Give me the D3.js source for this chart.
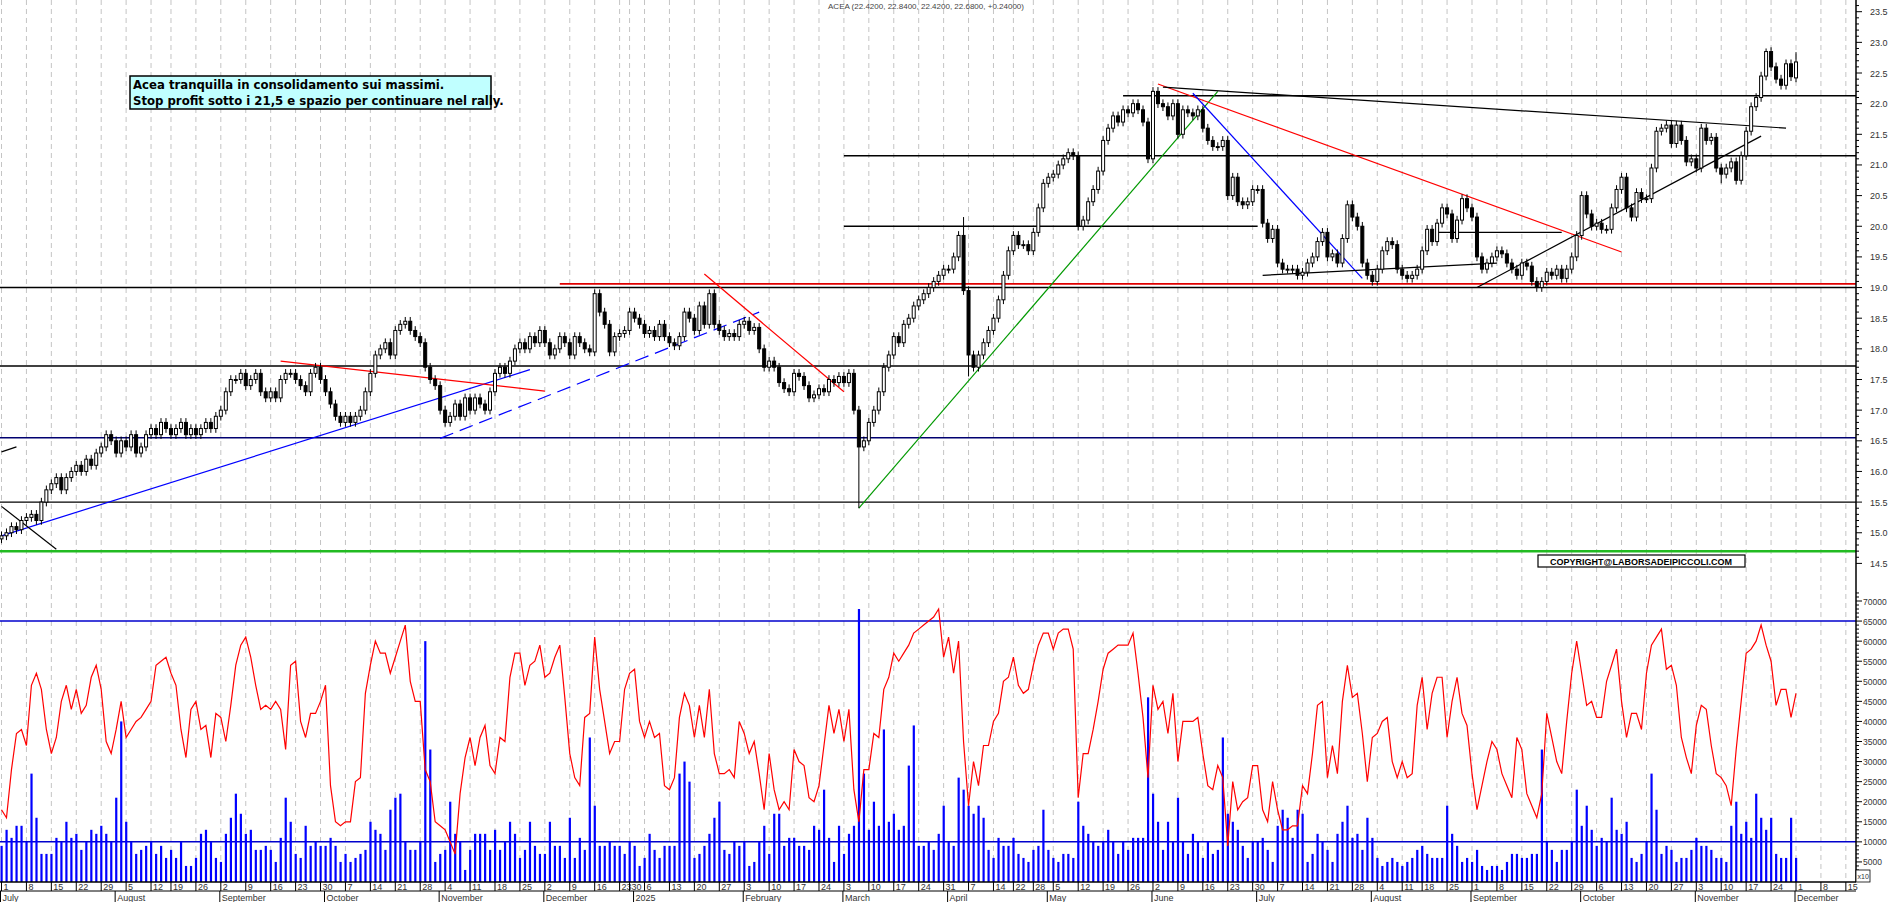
<!DOCTYPE html>
<html><head><meta charset="utf-8">
<script src="https://cdn.jsdelivr.net/npm/d3@7"></script>
<style>body{margin:0;background:#fff}svg{display:block}</style>
</head><body><svg id="c" width="1890" height="902"></svg>
<script>
// ---- DATA ----
const title = "ACEA (22.4200, 22.8400, 22.4200, 22.6800, +0.24000)";
const noteLines = ["Acea tranquilla in consolidamento sui massimi.", "Stop profit sotto i 21,5 e spazio per continuare nel rally."];
const copyright = "COPYRIGHT@LABORSADEIPICCOLI.COM";
const holidays = ["2024-08-15","2024-12-24","2024-12-25","2024-12-26","2024-12-31","2025-01-01","2025-04-18","2025-04-21","2025-05-01","2025-08-15"];
const monthNames = ["2025","February","March","April","May","June","July","August","September","October","November","December"];
const monthNames24 = ["","","","","","","July","August","September","October","November","December"];

const closes = [
// Jul 2024
14.95,15.0,15.1,15.05,15.2, 15.25,15.3,15.2,15.5,15.7, 15.8,15.9,15.7,15.9,16.0, 16.1,16.0,16.2,16.1,16.3, 16.4,16.6,16.5,
// Aug
16.3,16.5,16.4,16.6,16.3, 16.4,16.6,16.7,16.6,16.8, 16.7,16.6,16.7,16.8,16.6, 16.7,16.6,16.7,16.8,16.7, 16.9,
// Sep
17.0,17.3,17.5,17.5,17.6, 17.4,17.5,17.6,17.3,17.2, 17.3,17.2,17.5,17.6,17.6, 17.5,17.4,17.3,17.6,17.7, 17.5,
// Oct
17.3,17.1,16.9,16.8,16.9, 16.8,16.9,17.0,17.3,17.6, 17.9,18.0,18.1,17.9,18.3, 18.4,18.45,18.3,18.2,18.1, 17.7,17.5,17.4,
// Nov
17.0,16.8,16.9,17.1,16.9, 17.2,17.0,17.2,17.1,17.0, 17.3,17.6,17.7,17.6,17.8, 18.0,18.1,18.0,18.2,18.1, 18.3,
// Dec
18.1,17.9,18.0,18.2,18.1, 17.9,18.2,18.1,18.0,17.95, 18.9,18.6,18.4,17.95,18.2, 18.25,18.3,18.6,
// Jan 2025
18.5,18.4,18.25,18.3,18.2, 18.4,18.2,18.1,18.05,18.2, 18.6,18.5,18.3,18.7,18.4, 18.9,18.4,18.3,18.2,18.25, 18.2,18.4,
// Feb
18.45,18.3,18.35,18.0,17.7, 17.8,17.7,17.45,17.35,17.3, 17.6,17.55,17.4,17.2,17.25, 17.35,17.3,17.5,17.45,17.55,
// Mar
17.45,17.6,17.0,16.4,16.5, 16.8,17.0,17.3,17.7,17.9, 18.2,18.1,18.4,18.5,18.7, 18.8,18.9,19.0,19.1,19.2, 19.3,
// Apr
19.3,19.5,19.85,18.95,17.9, 17.7,17.9,18.1,18.3,18.5, 18.8,19.2,19.6,19.85,19.7, 19.7,19.6,19.9,20.3,20.7,
// May
20.8,20.85,21.0,21.1,21.2, 21.15,20.0,20.1,20.4,20.6, 20.9,21.4,21.6,21.8,21.7, 21.9,21.85,22.0,21.9,21.7, 21.1,
// Jun
22.2,22.0,21.95,21.8,22.0, 21.5,21.9,21.85,21.8,21.9, 21.6,21.4,21.3,21.3,21.4, 20.5,20.8,20.4,20.35,20.4, 20.6,
// Jul
20.6,20.05,19.8,19.95,19.4, 19.3,19.3,19.3,19.2,19.25, 19.4,19.5,19.75,19.9,19.5, 19.55,19.4,19.8,20.35,20.15, 20.0,19.4,19.2,
// Aug
19.1,19.3,19.6,19.75,19.7, 19.3,19.2,19.15,19.2,19.3, 19.6,19.95,19.75,20.05,20.3, 20.2,19.8,20.1,20.45,20.3,
// Sep
20.15,19.5,19.3,19.4,19.5, 19.6,19.55,19.4,19.3,19.2, 19.4,19.35,19.1,19.0,19.1, 19.25,19.2,19.3,19.15,19.3, 19.5,19.85,
// Oct
20.5,20.2,20.0,20.05,19.95, 19.95,20.3,20.6,20.8,20.3, 20.15,20.55,20.45,20.45,20.95, 21.55,21.6,21.65,21.35,21.65, 21.4,21.05,21.1,
// Nov
20.95,21.6,21.4,21.45,20.95, 20.85,20.95,21.05,20.75,21.15, 21.55,21.95,22.1,22.45,22.85, 22.6,22.4,22.3,22.65,22.44,
// Dec
22.68];
const firstOpen = 14.9;
const lastOpen = 22.42;
const wickExtremes = [[172,15.4,"low"],[194,17.55,"low"],[193,20.15,"high"],[360,22.84,"high"],[354,22.9,"high"],[345,20.7,"low"]];

// volume (thousands, axis units)
const volume = [
9,13,11,14,14,10,27,16,7,7,7,11,10,15,11,12,8,10,13,12,14,12,10,21,40,15,10,7,8,9,10,7,9,6,8,6,10,4,4,6,12,13,10,6,5,12,16,22,17,12,13,8,8,9,8,5,11,21,15,7,6,14,9,10,9,9,11,9,5,7,5,6,7,8,15,13,12,8,18,21,22,10,8,8,10,60,33,5,7,8,20,12,10,3,8,12,12,12,8,13,8,10,15,12,6,8,15,9,7,7,15,9,9,6,16,6,11,8,36,19,9,9,10,9,9,
7,10,9,4,6,12,8,6,9,9,9,27,30,25,6,7,9,12,16,20,8,7,10,9,10,4,5,10,14,7,17,17,9,11,11,9,9,8,14,13,23,11,5,14,7,12,14,68,27,13,20,14,38,15,17,13,14,29,39,9,9,10,8,12,19,10,9,26,23,19,17,19,16,8,6,11,9,9,11,7,6,5,8,9,18,8,6,5,7,7,6,20,14,12,10,9,10,13,10,7,10,8,11,11,11,46,22,15,8,15,10,21,10,7,12,10,6,10,7,8,
36,17,15,13,9,6,10,10,11,8,5,14,18,16,11,18,17,5,7,12,10,8,5,12,15,19,11,12,8,16,11,6,4,5,6,5,4,5,6,8,9,7,6,6,6,19,12,9,5,6,5,8,4,3,4,4,3,5,7,7,6,6,7,7,33,10,8,5,8,8,10,23,14,19,13,9,11,10,21,13,12,15,6,5,7,10,27,18,7,9,8,5,6,6,8,11,9,9,8,6,6,5,14,20,12,15,11,22,16,13,16,7,6,6,16,6];

// oscillator (thousands, axis units)
const osc = [
18,16,28,37,38,34,49,52,48,38,32,36,45,49,43,48,42,44,51,54,48,35,32,38,45,36,38,40,41,43,45,54,55,56,52,49,38,31,43,45,38,39,31,42,41,35,44,54,59,61,56,49,43,44,43,45,43,33,54,55,40,36,42,42,45,49,24,15,14,15,15,25,26,47,54,60,57,57,52,56,60,64,50,45,45,28,25,15,14,13,10,7,22,31,36,29,36,39,29,27,36,35,51,57,57,49,54,55,59,51,52,56,59,46,32,26,24,41,42,61,48,40,32,35,35,
48,52,53,40,36,40,36,37,24,23,26,41,47,44,36,44,36,48,32,27,27,28,26,40,37,32,35,27,18,32,23,18,20,18,33,30,29,21,20,24,34,44,37,43,35,43,23,15,28,28,37,36,48,51,57,55,57,59,62,63,64,65,66,68,56,61,52,60,35,19,30,24,34,34,40,42,50,51,56,49,47,48,54,59,62,62,58,62,63,63,58,21,32,32,38,45,53,57,58,59,59,59,62,52,41,26,49,43,45,37,47,30,40,40,40,41,32,24,23,29,
26,9,25,18,20,21,29,29,18,15,25,18,13,13,14,14,24,22,32,44,45,26,34,27,45,54,46,47,37,25,36,37,40,41,30,26,30,26,27,44,51,38,47,51,51,36,45,51,42,39,27,18,24,30,35,33,27,24,21,36,33,22,19,16,22,42,36,30,27,40,52,60,52,44,45,41,41,50,54,58,45,36,42,42,38,52,59,61,63,53,54,49,36,31,27,39,44,43,34,27,26,24,19,33,45,57,58,60,64,59,55,44,48,48,41,47];

// horizontal levels [price, fromIndex, toIndex(null=edge), colour, width]
const hLevels = [[22.13,225,null,"#000",1.5],[21.15,169,null,"#000",1.5],[20.0,169,252,"#000",1.5],[19.06,112,null,"#e00000",1.8],[19.0,0,null,"#000",1.5],[17.72,0,null,"#000",1.5],[16.55,0,null,"#000070",1.5],[15.5,0,null,"#000",1.2],[14.7,0,null,"#22bb22",2.5]];
const volLevels = [65, 10];
// trendlines [[i1,p1],[i2,p2],colour,dash]
const trends = [
 [[0,14.95],[106,17.66],"#0000ff",null],
 [[88,16.54],[152,18.6],"#0000ff","14,7"],
 [[56,17.8],[109,17.31],"#ff0000",null],
 [[141,19.22],[169,17.3],"#ff0000",null],
 [[172,15.4],[244,22.2],"#009900",null],
 [[232,22.32],[325,19.58],"#ff0000",null],
 [[239,22.17],[273,19.15],"#0000ff",null],
 [[233,22.27],[358,21.6],"#000",null],
 [[296,19.0],[353,21.47],"#000",null],
 [[253,19.2],[300,19.4],"#000",null],
 [[288,19.9],[313,19.9],"#000",null],
 [[0,16.32],[3,16.4],"#000",null],
 [[0,15.43],[11,14.73],"#000",null]];

// ---- DATES ----
const hol = new Set(holidays);
const dates = [];
for (let d = new Date(Date.UTC(2024,6,1)); d <= new Date(Date.UTC(2025,11,19)); d = new Date(d.getTime()+864e5)) {
  const wd = d.getUTCDay(); const s = d.toISOString().slice(0,10);
  if (wd>0 && wd<6 && !hol.has(s)) dates.push(d);
}
const nData = closes.length;

// ---- SCALES ----
const W = 1856;
const x = d3.scaleLinear().domain([0, 360]).range([1.5, 1796]);
const y = d3.scaleLinear().domain([23.5, 14.5]).range([11.7, 563.4]);
const yv = d3.scaleLinear().domain([0, 70]).range([882, 601]);
const svg = d3.select("#c");
const font = "'Liberation Sans', Arial, sans-serif";

// weekly starts (Monday-based weeks)
const mon0 = Date.UTC(2024,6,1);
const wk = d => Math.floor((d.getTime()-mon0)/(7*864e5));
const weekStarts = [];
dates.forEach((d,i)=>{ if(i===0 || wk(d)!==wk(dates[i-1])) weekStarts.push(i); });
const monthStarts = [];
dates.forEach((d,i)=>{ if(i===0 || d.getUTCMonth()!==dates[i-1].getUTCMonth()) monthStarts.push(i); });

// grid
svg.append("g").selectAll("line").data(weekStarts).join("line")
  .attr("x1",i=>x(i)).attr("x2",i=>x(i)).attr("y1",0).attr("y2",882)
  .attr("stroke","#c4c4c4").attr("stroke-dasharray","5,4").attr("stroke-width",1);

const plot = svg.append("g");
plot.append("clipPath").attr("id","cp").append("rect").attr("x",0).attr("y",0).attr("width",W).attr("height",882);
const pg = plot.append("g").attr("clip-path","url(#cp)");

// levels
hLevels.forEach(([p,a,b,c,w])=>{
  pg.append("line").attr("x1",a===0?0:x(a)).attr("x2",b===null?W:x(b)).attr("y1",y(p)).attr("y2",y(p)).attr("stroke",c).attr("stroke-width",w);
});
trends.forEach(([a,b,c,dash])=>{
  pg.append("line").attr("x1",x(a[0])).attr("y1",y(a[1])).attr("x2",x(b[0])).attr("y2",y(b[1]))
   .attr("stroke",c).attr("stroke-width",1.2).attr("stroke-dasharray",dash);
});

// candles
const ohlc = closes.map((c,i)=>{
  const o = i===0?firstOpen:(i===nData-1?lastOpen:closes[i-1]);
  let h = Math.max(o,c)+0.07, l = Math.min(o,c)-0.07;
  wickExtremes.forEach(([k,v,t])=>{ if(k===i){ if(t==="low") l=v; else h=v; }});
  return {i,o,c,h,l};
});
const cg = pg.append("g");
cg.selectAll("line").data(ohlc).join("line")
  .attr("x1",d=>x(d.i)).attr("x2",d=>x(d.i)).attr("y1",d=>y(d.h)).attr("y2",d=>y(d.l)).attr("stroke","#000").attr("stroke-width",1);
cg.selectAll("rect").data(ohlc).join("rect")
  .attr("x",d=>x(d.i)-1.5).attr("width",3)
  .attr("y",d=>y(Math.max(d.o,d.c))).attr("height",d=>Math.max(1,Math.abs(y(d.o)-y(d.c))))
  .attr("fill",d=>d.c>=d.o?"#fff":"#000").attr("stroke","#000").attr("stroke-width",1);

// volume panel
volLevels.forEach(v=>pg.append("line").attr("x1",0).attr("x2",W).attr("y1",yv(v)).attr("y2",yv(v)).attr("stroke","#0000cc").attr("stroke-width",1.5));
pg.append("g").selectAll("rect").data(volume).join("rect")
  .attr("x",(v,i)=>x(i)-1).attr("width",2.2).attr("y",v=>yv(v)).attr("height",v=>882-yv(v)).attr("fill","#0000ff");
pg.append("path").datum(osc).attr("fill","none").attr("stroke","#ff0000").attr("stroke-width",1.2)
  .attr("d",d3.line().x((v,i)=>x(i)).y(v=>yv(v)));

// right axes
const ax = svg.append("g").attr("font-family",font).attr("font-size",10).attr("fill","#333");
ax.append("line").attr("x1",W).attr("x2",W).attr("y1",0).attr("y2",882).attr("stroke","#000").attr("stroke-width",1.5);
for(let k=145;k<=236;k++){ const p=k/10; const maj = k%5===0;
  ax.append("line").attr("x1",W).attr("x2",W+(maj?6:3)).attr("y1",y(p)).attr("y2",y(p)).attr("stroke","#000");
  if(maj) ax.append("text").attr("x",W+14).attr("y",y(p)+3.5).attr("font-size",9).text(p.toFixed(1));
}
for(let k=2;k<=72;k++){ const maj=k%5===0;
  ax.append("line").attr("x1",W).attr("x2",W+(maj?6:3)).attr("y1",yv(k)).attr("y2",yv(k)).attr("stroke","#000");
  if(maj && k>=5 && k<=70) ax.append("text").attr("x",W+7).attr("y",yv(k)+3.5).attr("font-size",8.5).text(k*1000);
}
ax.append("rect").attr("x",W).attr("y",870).attr("width",14).attr("height",12).attr("fill","#fff").attr("stroke","#000").attr("stroke-width",0.8);
ax.append("text").attr("x",W+1.5).attr("y",879).attr("font-size",7).text("x10");

// bottom axis
const bx = svg.append("g").attr("font-family",font).attr("font-size",10).attr("fill","#333");
bx.append("line").attr("x1",0).attr("x2",W).attr("y1",882).attr("y2",882).attr("stroke","#000").attr("stroke-width",1.5);
bx.append("line").attr("x1",0).attr("x2",W).attr("y1",891).attr("y2",891).attr("stroke","#000").attr("stroke-width",1);
weekStarts.forEach(i=>{
  if (x(i) > W - 6) return;
  bx.append("line").attr("x1",x(i)).attr("x2",x(i)).attr("y1",882).attr("y2",891).attr("stroke","#000");
  bx.append("text").attr("x",x(i)+2).attr("y",890).attr("font-size",9).text(dates[i].getUTCDate());
});
monthStarts.forEach(i=>{
  const d = dates[i]; const yr = d.getUTCFullYear(); const m = d.getUTCMonth();
  const name = yr===2024 ? monthNames24[m] : monthNames[m];
  const xx = Math.max(0,x(i)-1);
  bx.append("line").attr("x1",xx).attr("x2",xx).attr("y1",891).attr("y2",902).attr("stroke","#000");
  bx.append("text").attr("x",xx+2).attr("y",901).attr("font-size",9).text(name);
});

// title
svg.append("text").attr("x",926).attr("y",9).attr("text-anchor","middle").attr("font-family",font).attr("font-size",8).attr("fill","#444").text(title);
// note box
const ng = svg.append("g");
ng.append("rect").attr("x",130).attr("y",76).attr("width",361).attr("height",33).attr("fill","#c0ffff").attr("stroke","#000").attr("stroke-width",1.5);
noteLines.forEach((t,k)=>ng.append("text").attr("x",133).attr("y",89+k*16).attr("font-family","'Liberation Sans Narrow','DejaVu Sans Condensed',Arial,sans-serif").attr("font-weight","bold").attr("font-size",13).attr("fill","#000").text(t));
// copyright
svg.append("rect").attr("x",1538).attr("y",555).attr("width",207).attr("height",12).attr("fill","#fff").attr("stroke","#000").attr("stroke-width",1.2);
svg.append("text").attr("x",1641).attr("y",564.5).attr("text-anchor","middle").attr("font-family",font).attr("font-weight","bold").attr("font-size",9).text(copyright);
</script></body></html>
